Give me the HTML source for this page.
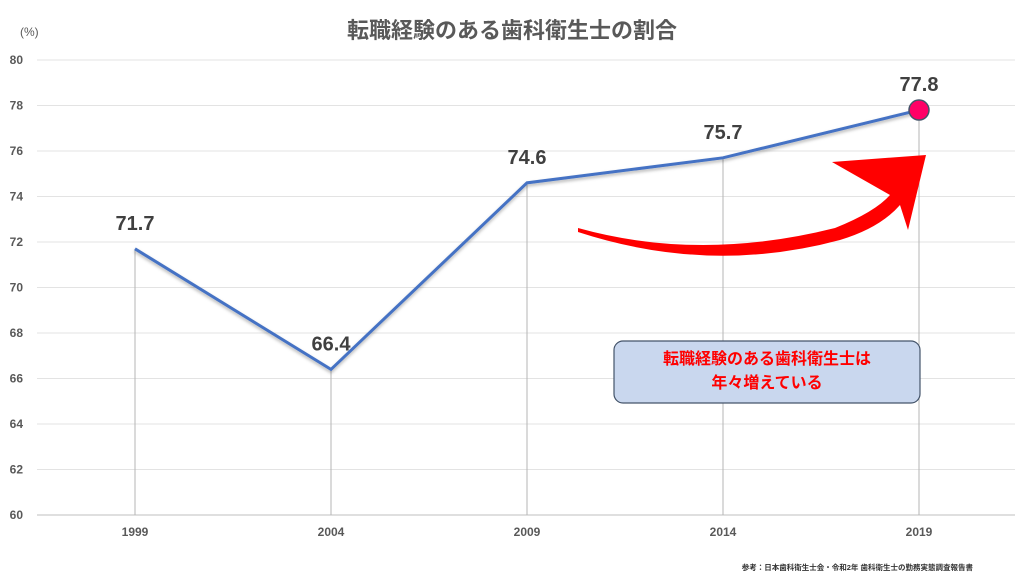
<!DOCTYPE html>
<html><head><meta charset="utf-8"><style>
body{margin:0;background:#fff;}
svg{display:block;font-family:"Liberation Sans","Noto Sans CJK JP",sans-serif;}
</style></head><body>
<svg id="chart" width="1024" height="576" viewBox="0 0 1024 576">
<defs><filter id="sh" x="-5%" y="-5%" width="110%" height="120%"><feDropShadow dx="0" dy="2" stdDeviation="1.5" flood-color="#000" flood-opacity="0.3"/></filter></defs>
<text x="512" y="38" text-anchor="middle" font-size="22" font-weight="bold" fill="#595959">転職経験のある歯科衛生士の割合</text>
<text x="20" y="36" font-size="12" fill="#595959">(%)</text>
<g id="grid"></g><g id="drops"></g><g id="yt"></g><g id="xt"></g>
<polyline id="line" fill="none" stroke="#4472c4" stroke-width="3" filter="url(#sh)"/>
<g id="labels"></g>
<g id="marker"></g>
<path fill="#ff0000" d="M578,228 Q700,262 835,228 Q875,212 890,195 L832,162 L926,155 L908,230 L900,205 Q880,228 840,240 Q710,275 578,232 Z"/>
<rect x="614" y="341" width="306" height="62" rx="9" fill="#c9d7ee" stroke="#44546a" stroke-width="1.2"/>
<text x="767" y="364" text-anchor="middle" font-size="16" font-weight="bold" fill="#ff0000">転職経験のある歯科衛生士は</text>
<text x="767" y="388" text-anchor="middle" font-size="16" font-weight="bold" fill="#ff0000">年々増えている</text>
<text x="973" y="570" text-anchor="end" font-size="7.5" font-weight="bold" fill="#333">参考：日本歯科衛生士会・令和2年 歯科衛生士の勤務実態調査報告書</text>
</svg>
<script>
const categories=["1999","2004","2009","2014","2019"];
const values=[71.7,66.4,74.6,75.7,77.8];
const yTicks=[60,62,64,66,68,70,72,74,76,78,80];
const NS="http://www.w3.org/2000/svg";
const X0=37,X1=1015,Y0=515,Y1=60,YMIN=60,YMAX=80;
function x(i){return 135+i*196;}
function y(v){return Y0-(v-YMIN)/(YMAX-YMIN)*(Y0-Y1);}
function mk(tag,attrs,parent,txt){const e=document.createElementNS(NS,tag);for(const k in attrs)e.setAttribute(k,attrs[k]);if(txt!=null)e.textContent=txt;document.getElementById(parent).appendChild(e);return e;}
yTicks.forEach(t=>{
 const g=mk("line",{x1:X0,x2:X1,y1:y(t),y2:y(t),stroke:t===60?"#bfbfbf":"#e3e3e3","stroke-width":1},"grid");
 
 
 const l=mk("text",{x:23,y:y(t)+4,"text-anchor":"end","font-size":12,"font-weight":"bold",fill:"#595959"},"yt",t);
 
 
});
categories.forEach((c,i)=>{
 const d=mk("line",{x1:x(i),x2:x(i),y1:y(values[i]),y2:Y0,stroke:"#b5b5b5","stroke-width":1},"drops");
 
 
 const t=mk("text",{x:x(i),y:536,"text-anchor":"middle","font-size":12,"font-weight":"bold",fill:"#595959"},"xt",c);
 
 
 const v=mk("text",{x:x(i),y:y(values[i])-19,"text-anchor":"middle","font-size":20,"font-weight":"bold",fill:"#404040"},"labels",values[i].toFixed(1));
 
 
});
document.getElementById("line").setAttribute("points",values.map((v,i)=>x(i)+","+y(v)).join(" "));
const last=values.length-1;
const m=mk("circle",{cx:x(last),cy:y(values[last]),r:10,fill:"#ff0066",stroke:"#44546a","stroke-width":1.5},"marker");


</script>
</body></html>
